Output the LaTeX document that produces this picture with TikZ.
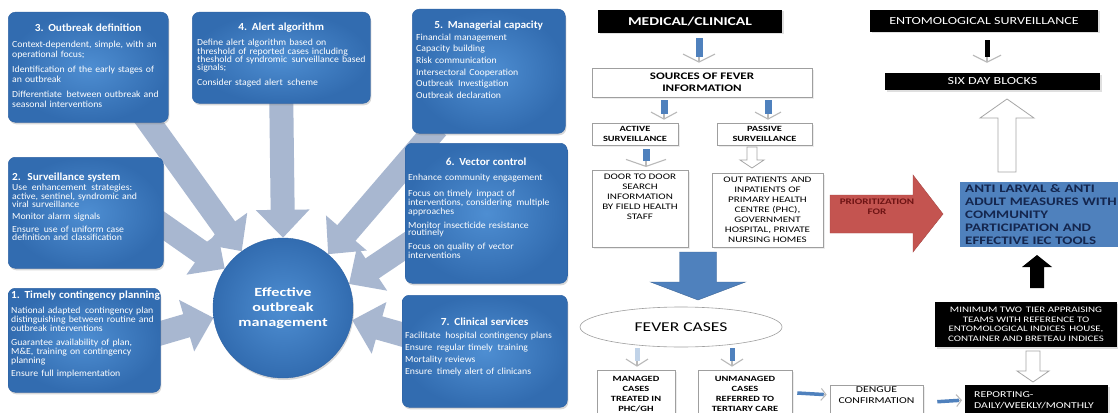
\documentclass[tikz,border=0pt]{standalone}
\usepackage{fontspec}
\setmainfont{Carlito}
\newfontfamily\rf[FakeStretch=1.3]{Carlito}
\newfontfamily\lf[FakeStretch=1.05]{Carlito}
\usetikzlibrary{arrows.meta,shapes.geometric,shadows,calc}
\pgfdeclarelayer{back}
\pgfsetlayers{back,main}
\definecolor{boxblue}{RGB}{62,124,190}
\definecolor{boxin}{RGB}{78,142,210}
\definecolor{boxout}{RGB}{50,108,176}
\definecolor{boxedge}{RGB}{48,100,165}
\definecolor{arrgray}{RGB}{168,183,208}
\definecolor{flowblue}{RGB}{79,129,189}
\definecolor{redarr}{RGB}{196,84,80}
\definecolor{redtext}{RGB}{110,20,20}
\definecolor{navy}{RGB}{20,38,78}
\newcommand{\bt}[2]{{\centering\fontsize{10.8}{12}\selectfont\bfseries #1\par}\vspace{#2}}
\newcommand{\btl}[2]{{\fontsize{10.8}{12}\selectfont\bfseries #1\par}\vspace{#2}}
\newcommand{\gap}[1]{\par\vspace{#1}}
% vertical block arrow: style, x, y start, y tip, shaft half width, head half width, head length
\newcommand{\varr}[7]{%
  \pgfmathsetmacro\hb{#4-(#7)*sign(#4-#3)}%
  \path[#1] (#2-#5,#3) -- (#2-#5,\hb) -- (#2-#6,\hb) -- (#2,#4) -- (#2+#6,\hb) -- (#2+#5,\hb) -- (#2+#5,#3) -- cycle;}
\begin{document}
\begin{tikzpicture}[x=1pt,y=-1pt,
  lbox/.style={rounded corners=7pt, inner color=boxin, outer color=boxout, draw=boxedge, line width=0.5pt,
    drop shadow={opacity=0.3, shadow xshift=1pt, shadow yshift=-2pt},
    anchor=north west, inner sep=0pt},
  ltext/.style={text=white, anchor=north west, inner sep=0pt, align=left},
  circ/.style={circle, minimum size=140pt, inner sep=0pt, inner color=boxin, outer color=boxout, draw=boxedge,
    drop shadow={opacity=0.3, shadow xshift=1pt, shadow yshift=-2pt},
    text=white, align=center, font=\rf\bfseries\fontsize{12.5}{15}\selectfont},
  fat/.style={draw=arrgray, line width=24pt, -{Triangle[width=52pt,length=28pt]}},
  blk/.style={rectangle, fill=black, text=white, inner sep=1pt, align=center,
    drop shadow={opacity=0.25, shadow xshift=1.5pt, shadow yshift=-1.5pt}},
  wbox/.style={rectangle, draw=gray!75, fill=white, line width=0.6pt, inner sep=1pt, align=center,
    drop shadow={opacity=0.15, shadow xshift=1.5pt, shadow yshift=-1.5pt}},
  chev/.style={draw=gray!55, line width=1.1pt, -{Straight Barb[length=8pt,width=32pt]}},
  hchev/.style={draw=gray!55, line width=1pt, -{Straight Barb[length=5pt,width=12pt]}},
  shaft/.style={draw=flowblue, line width=7pt, shorten >=6pt},
  hshaft/.style={draw=flowblue, line width=3.5pt, shorten >=3pt},
  openarr/.style={fill=white, draw=gray!70, line width=0.8pt},
]
\useasboundingbox (0,0) rectangle (1118,412);
\begin{pgfonlayer}{back}
\fill[white] (0,0) rectangle (1118,412);
\end{pgfonlayer}

% ---------------- left panel ----------------
\node[circ] (eom) at (283,308) {Effective\\outbreak\\management};

\node[lbox, minimum width=160pt, minimum height=110pt] (b3) at (8,12) {};
\node[ltext, text width=152pt, font=\lf\fontsize{9.3}{10}\selectfont] (t3) at ($(b3.north west)+(4,12)$) {%
\bt{3. Outbreak definition}{6pt}
Context-dependent, simple, with an\\operational focus;\gap{5pt}
Identification of the early stages of\\an outbreak\gap{5pt}
Differentiate\, between outbreak and\\seasonal interventions};

\node[lbox, minimum width=178pt, minimum height=91pt] (b4) at (192,12) {};
\node[ltext, text width=174pt, font=\lf\fontsize{9.3}{8.3}\selectfont] (t4) at ($(b4.north west)+(2,11)$) {%
\bt{4. Alert algorithm}{6.7pt}
\hspace{3pt}Define alert algorithm based on\\\hspace*{3pt}threshold of reported cases including\\\hspace*{3pt}theshold of syndromic\, surveillance based\\\hspace*{3pt}signals;\gap{6.4pt}
\hspace*{3pt}Consider staged alert\, scheme};

\node[lbox, minimum width=153pt, minimum height=124pt] (b5) at (412,9) {};
\node[ltext, text width=145pt, font=\lf\fontsize{9.3}{11.6}\selectfont] (t5) at ($(b5.north west)+(4,12)$) {%
\bt{5. Managerial capacity}{0pt}
Financial management\\
Capacity building\\
Risk communication\\
Intersectoral Cooperation\\
Outbreak\, Investigation\\
Outbreak declaration};

\node[lbox, minimum width=162pt, minimum height=140pt] (b6) at (405,143) {};
\node[ltext, text width=156pt, font=\lf\fontsize{9.3}{7.8}\selectfont] (t6) at ($(b6.north west)+(3,15)$) {%
\bt{6. Vector control}{7.2pt}
Enhance community engagement\gap{6.5pt}
Focus on timely\, impact of\\interventions, considering\, multiple\\approaches\gap{4.8pt}
Monitor insecticide resistance\\routinely\gap{5pt}
Focus on quality of vector\\interventions};

\node[lbox, minimum width=165pt, minimum height=112pt] (b7) at (402,295) {};
\node[ltext, text width=159pt, font=\lf\fontsize{9.3}{12.3}\selectfont] (t7) at ($(b7.north west)+(3,23)$) {%
\bt{7. Clinical services}{0pt}
Facilitate\, hospital contingency plans\\
Ensure\, regular timely\, training\\
Mortality reviews\\
Ensure\, timely alert of clinicans};

\node[lbox, minimum width=155pt, minimum height=111pt] (b2) at (8,157) {};
\node[ltext, text width=149pt, font=\lf\fontsize{9.3}{8.3}\selectfont] (t2) at ($(b2.north west)+(4,16)$) {%
\btl{2.\, Surveillance system}{1.7pt}
Use\, enhancement\, strategies:\\active, sentinel, syndromic and\\viral surveillance\gap{3.8pt}
Monitor alarm signals\gap{4.6pt}
Ensure\, use of uniform case\\definition and classification};

\node[lbox, minimum width=152pt, minimum height=104pt] (b1) at (8,288) {};
\node[ltext, text width=150pt, font=\lf\fontsize{9.3}{7.6}\selectfont] (t1) at ($(b1.north west)+(3,3)$) {%
\btl{1. Timely contingency planning}{5.4pt}
National adapted\, contingency plan\\distinguishing between routine and\\outbreak interventions\gap{6.3pt}
Guarantee availability of plan,\\M\&E, training on contingency\\planning\gap{3.6pt}
Ensure full implementation};

% fat arrows (behind boxes)
\begin{pgfonlayer}{back}
\draw[fat] ($(b3.south east)+(-25,-8)$) -- (eom.126);
\draw[fat] ($(b4.south)+(0,-5)$) -- (eom.90);
\draw[fat] ($(b5.south west)+(25,-6)$) -- (eom.50);
\draw[fat] ($(b6.west)+(12,25)$) -- (eom.20);
\draw[fat] ($(b7.west)+(10,-14)$) -- (eom.350);
\draw[fat] ($(b2.east)+(-10,6)$) -- (eom.146);
\draw[fat] ($(b1.east)+(-10,-4)$) -- (eom.188);
\end{pgfonlayer}

% ---------------- right panel ----------------
\node[blk, minimum width=184pt, minimum height=23pt, font=\rf\bfseries\fontsize{12}{14}\selectfont] (med) at (690,21.5) {MEDICAL/CLINICAL};
\node[wbox, minimum width=220pt, minimum height=29pt, font=\rf\bfseries\fontsize{10}{12}\selectfont] (src) at (702,82.5) {SOURCES OF FEVER\\INFORMATION};
\node[wbox, minimum width=86pt, minimum height=22pt, font=\rf\bfseries\fontsize{8}{10}\selectfont] (act) at (635,134) {ACTIVE\\SURVEILLANCE};
\node[wbox, minimum width=95pt, minimum height=22pt, font=\rf\bfseries\fontsize{8}{10}\selectfont] (pas) at (764.5,134) {PASSIVE\\SURVEILLANCE};
\node[wbox, minimum width=96pt, minimum height=77pt, font=\rf\fontsize{8.5}{10}\selectfont, anchor=north] (door) at (640,170) {DOOR TO DOOR\\SEARCH\\INFORMATION\\BY FIELD HEALTH\\STAFF\\[14pt]};
\node[wbox, minimum width=111pt, minimum height=74pt, font=\rf\fontsize{8.5}{10}\selectfont] (outp) at (767.5,210) {OUT PATIENTS\, AND\\INPATIENTS OF\\PRIMARY HEALTH\\CENTRE (PHC),\\GOVERNMENT\\HOSPITAL, PRIVATE\\NURSING HOMES};
\node[ellipse, draw=gray!75, fill=white, line width=0.6pt, minimum width=202pt, minimum height=40pt, inner sep=0pt, font=\rf\fontsize{13.5}{15}\selectfont] (fever) at (681,327) {FEVER CASES};
\node[wbox, minimum width=78pt, minimum height=48pt, font=\rf\bfseries\fontsize{8}{10}\selectfont] (man) at (636,394) {MANAGED\\CASES\\TREATED IN\\PHC/GH};
\node[wbox, minimum width=94pt, minimum height=48pt, font=\rf\bfseries\fontsize{8}{10}\selectfont] (unm) at (745,394) {UNMANAGED\\CASES\\REFERRED TO\\TERTIARY CARE};
\node[wbox, minimum width=93pt, minimum height=30pt, font=\rf\fontsize{9}{11}\selectfont, anchor=north] (deng) at (876.5,385) {DENGUE\\CONFIRMATION\\[3pt]};
\node[blk, minimum width=143pt, minimum height=30pt, anchor=north west, align=left, text width=125pt, inner xsep=9pt, font=\rf\fontsize{9}{11}\selectfont] (rep) at (965,385) {REPORTING-\\DAILY/WEEKLY/MONTHLY\\[3pt]};
\node[blk, minimum width=182pt, minimum height=45pt, font=\rf\fontsize{8.4}{9.6}\selectfont] (mtt) at (1026,324.5) {MINIMUM TWO\, TIER APPRAISING\\TEAMS WITH REFERENCE TO\\ENTOMOLOGICAL INDICES\, HOUSE,\\CONTAINER AND BRETEAU INDICES};
\node[rectangle, fill=flowblue, anchor=north west, minimum width=158pt, minimum height=65pt, text width=160pt, inner xsep=5pt, inner ysep=0pt, align=left, text=navy, font=\rf\bfseries\fontsize{11.5}{13}\selectfont] (anti) at (960,182) {ANTI LARVAL \& ANTI\\ADULT MEASURES WITH\\COMMUNITY\\PARTICIPATION AND\\EFFECTIVE IEC TOOLS};
\node[blk, minimum width=228pt, minimum height=22pt, font=\rf\fontsize{10.8}{12}\selectfont] (ento) at (984,21) {ENTOMOLOGICAL SURVEILLANCE};
\node[blk, minimum width=215pt, minimum height=17pt, font=\rf\fontsize{10.8}{12}\selectfont] (six) at (992.5,81.5) {SIX DAY BLOCKS};

% small flow arrows
\draw[chev] ($(med.south)+(9,5)$) -- ($(src.north)+(-3,-5)$);
\draw[shaft] ($(med.south)+(9,5)$) -- ($(src.north)+(-3,-5)$);
\draw[chev,-{Straight Barb[length=7pt,width=26pt]}] ($(src.south)+(-38,3)$) -- ($(act.north)+(29,-3)$);
\draw[shaft] ($(src.south)+(-38,3)$) -- ($(act.north)+(29,-3)$);
\draw[chev,-{Straight Barb[length=7pt,width=26pt]}] ($(src.south)+(66,3)$) -- ($(pas.north)+(3.5,-3)$);
\draw[shaft] ($(src.south)+(66,3)$) -- ($(pas.north)+(3.5,-3)$);
\draw[chev,-{Straight Barb[length=7pt,width=40pt]}] ($(act.south)+(11,4)$) -- ($(door.north)+(6,-3)$);
\draw[shaft] ($(act.south)+(11,4)$) -- ($(door.north)+(6,-3)$);
\draw[chev,-{Straight Barb[length=7pt,width=22pt]}] ($(fever.south)+(-44,1)$) -- ($(man.north)+(1,-3)$);
\draw[shaft,draw=flowblue!35,line width=5pt] ($(fever.south)+(-44,1)$) -- ($(man.north)+(1,-3)$);
\draw[chev,-{Straight Barb[length=7pt,width=22pt]}] ($(fever.south)+(51,1)$) -- ($(unm.north)+(-13,-3)$);
\draw[shaft,line width=5pt] ($(fever.south)+(51,1)$) -- ($(unm.north)+(-13,-3)$);
\draw[hchev] ($(unm.east)+(5,-1)$) -- ($(deng.west)+(-3,-7)$);
\draw[hshaft] ($(unm.east)+(5,-1)$) -- ($(deng.west)+(-3,-7)$);
\draw[hchev] ($(deng.east)+(14,0)$) -- ($(rep.west)+(-3,0)$);
\draw[hshaft] ($(deng.east)+(14,0)$) -- ($(rep.west)+(-3,0)$);
\draw[chev,-{Straight Barb[length=7pt,width=28pt]}] ($(ento.south)+(3,8)$) -- ($(six.north)+(-5.5,-10)$);
\draw[shaft,draw=black,line width=5pt] ($(ento.south)+(3,8)$) -- ($(six.north)+(-5.5,-10)$);

% block arrows
\varr{openarr}{752}{147}{168}{5}{12}{8}
\varr{openarr}{1033}{351}{382}{7}{16}{11}
\varr{openarr}{1007}{172}{99}{9}{27}{19}
\varr{fill=black}{1037}{288}{255}{7}{15}{12}
\varr{fill=flowblue, draw=flowblue!80!black, line width=0.4pt}{698}{252}{300}{18.5}{47.5}{18}
\path[fill=redarr, draw=redarr!85!black, line width=0.4pt] (830,195) -- (913,195) -- (913,175) -- (943,214) -- (913,252) -- (913,233) -- (830,233) -- cycle;
\node[font=\rf\bfseries\fontsize{8.5}{10}\selectfont, text=redtext, align=center, inner sep=0pt] (prio) at (877,207) {PRIORITIZATION\\FOR};
\end{tikzpicture}
\end{document}
